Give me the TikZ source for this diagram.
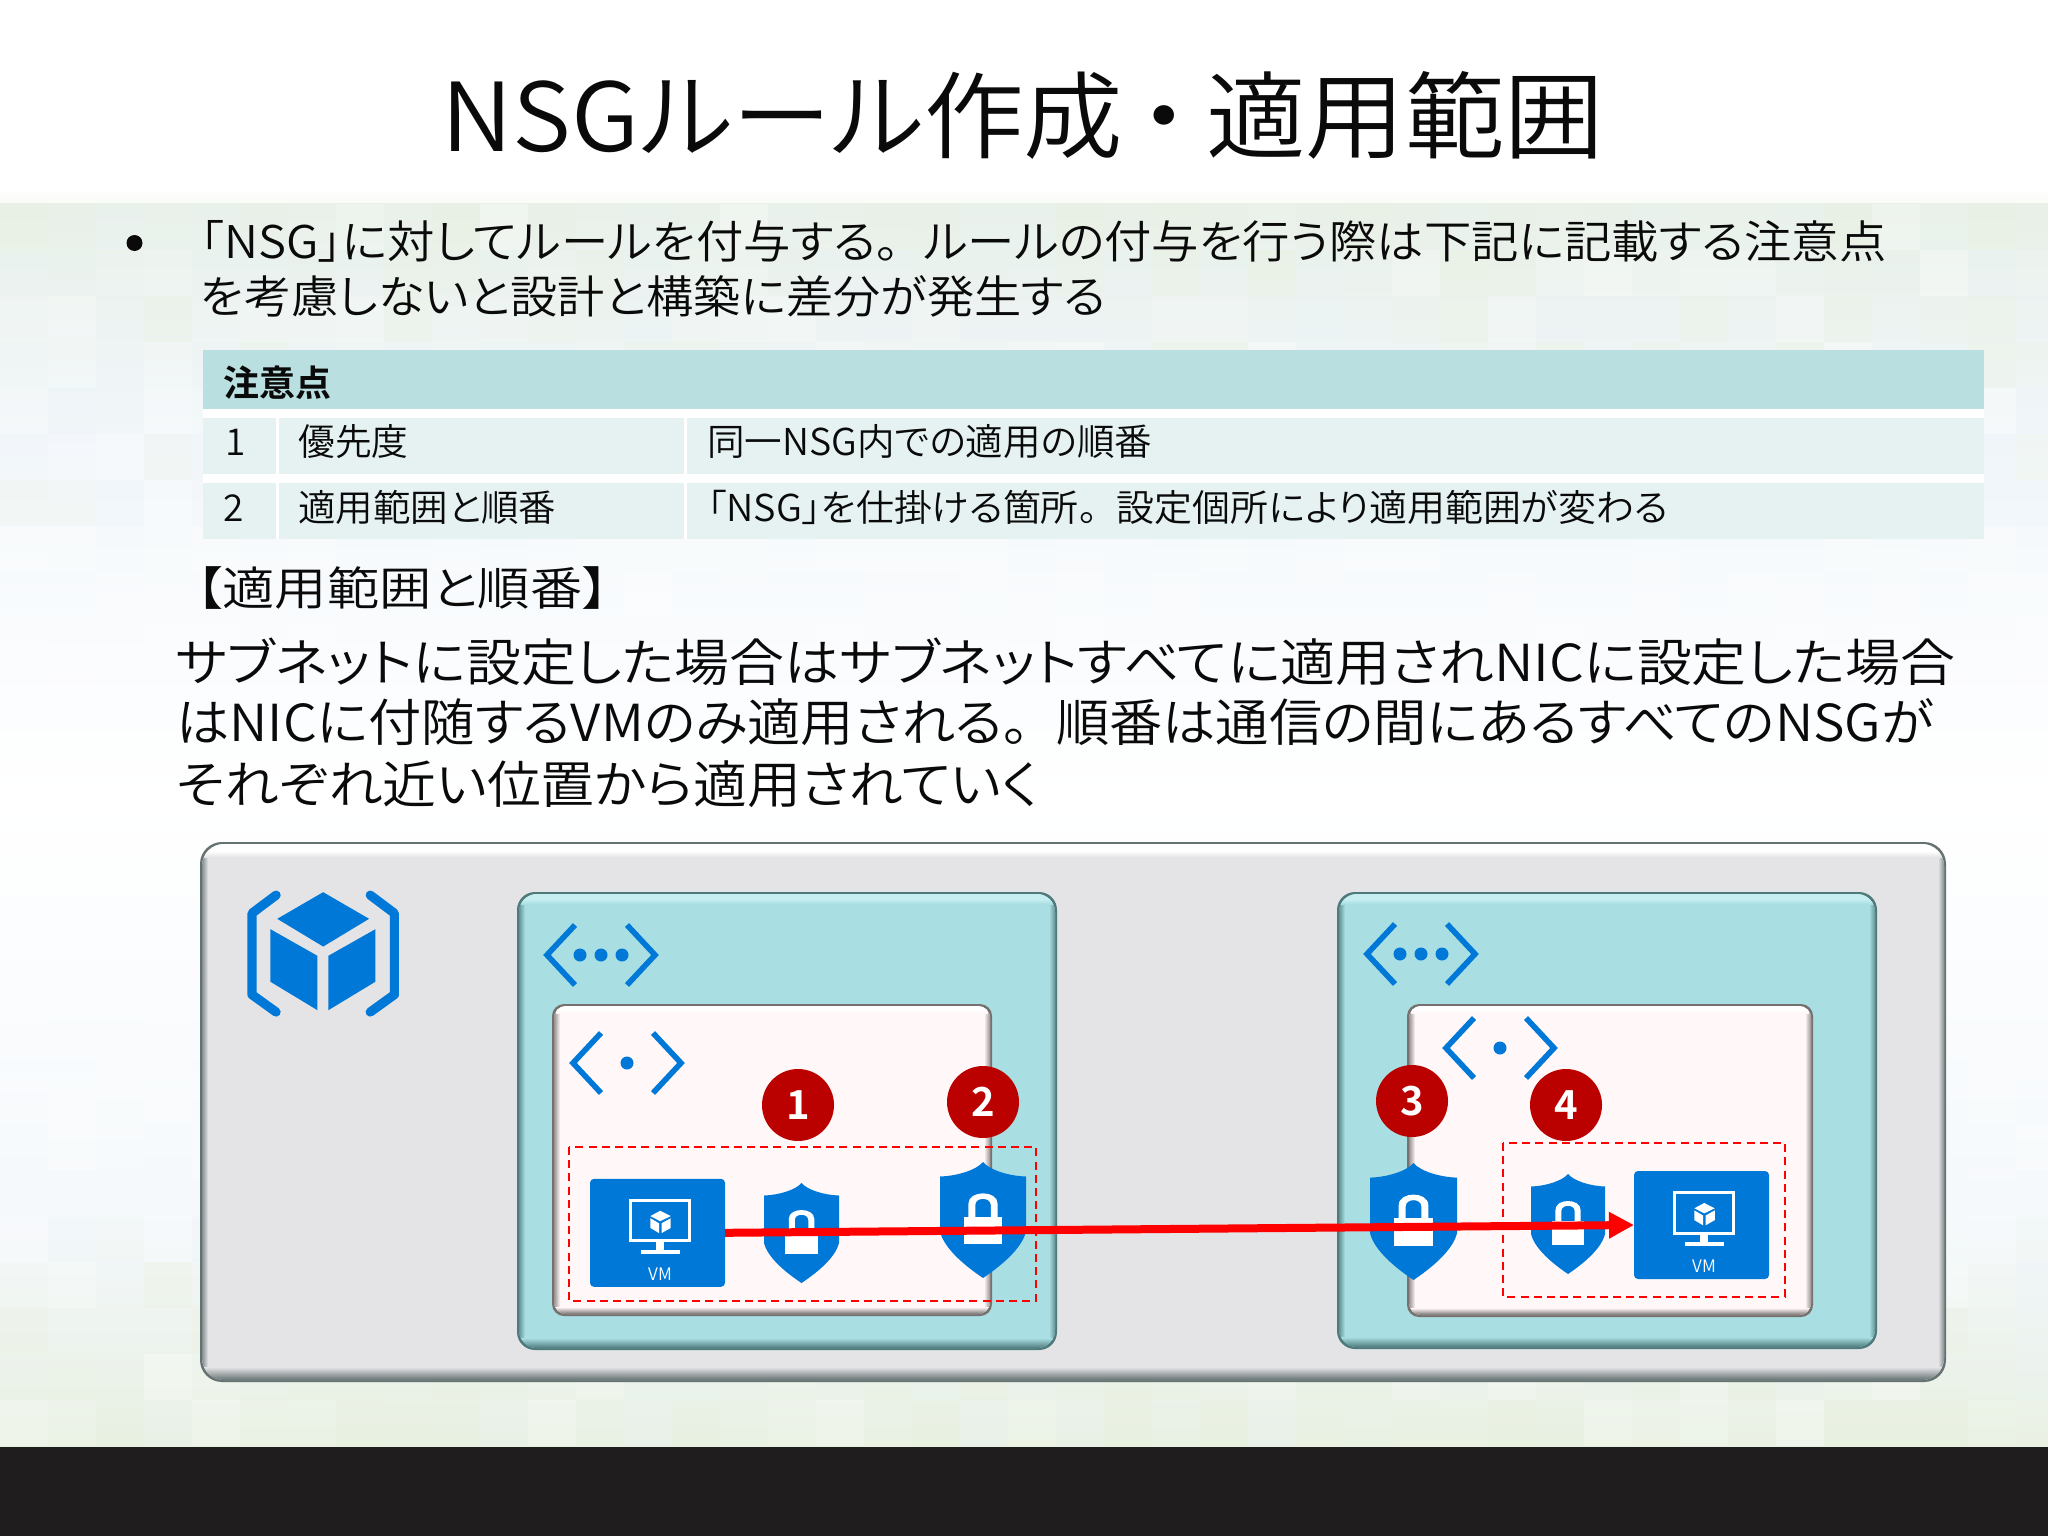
\documentclass[tikz,border=0pt]{standalone}
\usepackage{fontspec}
\usepackage{graphicx}
\usetikzlibrary{arrows.meta}
\setmainfont{Noto Sans CJK JP DemiLight}[RawFeature={+palt},BoldFont={Noto Sans CJK JP Bold}]
\definecolor{azblue}{HTML}{0078D7}
\definecolor{badgered}{HTML}{BB0000}
\definecolor{inkblack}{HTML}{0A0A0A}
\definecolor{hdrfill}{HTML}{B9DFE1}
\definecolor{rowfill}{HTML}{E6F2F2}
\definecolor{footer}{HTML}{201D1F}
\definecolor{mzero}{HTML}{FFFFFF}
\definecolor{mone}{HTML}{E8F0DC}
\definecolor{mtwo}{HTML}{EAF2F8}
\definecolor{outmain}{HTML}{E4E4E6}
\definecolor{outdark}{HTML}{667272}
\definecolor{netmain}{HTML}{A9DFE3}
\definecolor{netlight}{HTML}{C6EEF0}
\definecolor{netdark}{HTML}{4F7A7C}
\definecolor{submain}{HTML}{FFF7F8}
\definecolor{subdark}{HTML}{76706F}
\newcommand{\fitted}[3]{\resizebox{\dimexpr #1pt/2\relax}{\height}{\fontsize{\the\dimexpr #2pt/2\relax}{\the\dimexpr #2pt*6/10\relax}\selectfont #3}}
\newcommand{\fsize}[1]{\fontsize{#1}{#1}\selectfont}
\newcommand{\kuten}{。\hspace{.5em}}
\newcommand{\naka}{\hspace{.17em}・\hspace{.17em}}
% x1 y1 x2 y2 main light dark radius strip
\newcommand{\bevel}[9]{%
  \fill[#7, rounded corners=#8pt] (#1,#2) rectangle (#3,#4);
  \begin{scope}
    \clip[rounded corners=#8pt] (#1+2,#2+2) rectangle (#3-2,#4-2);
    \fill[#5] (#1,#2) rectangle (#3,#4);
    \shade[left color=#7, right color=#5] (#1,#2) rectangle (#1+8,#4);
    \shade[left color=#5, right color=#7] (#3-8,#2) rectangle (#3,#4);
    \fill[#6] (#1+4,#2) rectangle (#3-4,#2+#9*0.6);
    \shade[top color=#6, bottom color=#5] (#1+4,#2+#9*0.6) rectangle (#3-4,#2+#9);
    \shade[top color=#5, bottom color=#7] (#1,#4-#9) rectangle (#3,#4-2);
    \fill[#7] (#1,#4-2) rectangle (#3,#4);
  \end{scope}}
\newcommand{\shieldicon}[4]{%
  \begin{scope}[shift={(#1,#2)},xscale=#3,yscale=#4]
    \fill[azblue] (.5,0) .. controls (.42,.07) and (.2,.12) .. (0,.125) -- (0,.6)
      .. controls (.05,.75) and (.3,.9) .. (.5,1)
      .. controls (.7,.9) and (.95,.75) .. (1,.6) -- (1,.125)
      .. controls (.8,.12) and (.58,.07) .. (.5,0) -- cycle;
    \fill[white] (.28,.47) rectangle (.72,.71);
    \fill[white] (.33,.48) -- (.33,.36) .. controls (.33,.24) and (.67,.24) .. (.67,.36) -- (.67,.48)
      -- (.59,.48) -- (.59,.37) .. controls (.59,.30) and (.41,.30) .. (.41,.37) -- (.41,.48) -- cycle;
  \end{scope}}
\newcommand{\vmicon}[3]{%
  \node[vmbox] (#1) at (#2,#3) {};
  \begin{scope}[shift={(#2-67.5,#3-54)},xscale=135,yscale=108]
    \draw[white,line width=1.5pt] (.3,.2) rectangle (.74,.575);
    \fill[white] (.49,.575) rectangle (.55,.66);
    \fill[white] (.376,.655) rectangle (.666,.695);
    \fill[white] (.52,.296) -- (.598,.345) -- (.52,.392) -- (.447,.345) -- cycle;
    \fill[white] (.447,.365) -- (.512,.412) -- (.512,.503) -- (.447,.455) -- cycle;
    \fill[white] (.598,.365) -- (.53,.412) -- (.53,.503) -- (.598,.455) -- cycle;
    \node[vmlabel] (#1t) at (.52,.88) {VM};
  \end{scope}}
% chevrons: x y; width 112, height 60
\newcommand{\chevrons}[2]{%
  \draw[azblue,line width=2.8pt,miter limit=4] (#1+30,#2) -- (#1+2,#2+30) -- (#1+30,#2+60);
  \draw[azblue,line width=2.8pt,miter limit=4] (#1+82,#2) -- (#1+110,#2+30) -- (#1+82,#2+60);}
\tikzset{
  x=0.5pt,y=-0.5pt,
  vmbox/.style={fill=azblue,rounded corners=2pt,minimum width=67.5pt,minimum height=54pt,inner sep=0pt,outer sep=0pt},
  vmlabel/.style={text=white,inner sep=0pt,font=\fsize{8.6pt}},
  badge/.style={circle,fill=badgered,text=white,minimum size=36pt,inner sep=0pt,font=\fsize{20pt}\bfseries},
  txt/.style={anchor=base west,inner sep=0pt,text=inkblack},
  redbox/.style={draw=red,line width=0.8pt,dash pattern=on 4pt off 2.6pt},
  flow/.style={red,line width=4pt,-{Triangle[length=12.5pt,width=12.5pt]}},
}
\begin{document}
\begin{tikzpicture}
\useasboundingbox (0,0) rectangle (2048,1536);
\fill[white] (0,0) rectangle (2048,1536);
% background
\shade[top color=white,bottom color=white!75!mone] (0,190) rectangle (2048,203);
\shade[top color=mone!55!mtwo,bottom color=mtwo!60!white] (0,203) rectangle (2048,440);
\shade[top color=mtwo!60!white,bottom color=white] (0,440) rectangle (2048,800);
\shade[top color=white,bottom color=mtwo!50!white] (0,800) rectangle (2048,1220);
\shade[top color=mtwo!50!white,bottom color=mone!80!mtwo] (0,1220) rectangle (2048,1447);
\pgfmathsetseed{17}
\foreach \gx in {0,48,...,2016}{
  \foreach \gy in {204,250,...,1420}{
    \pgfmathsetmacro\gop{rnd*0.3}
    \pgfmathtruncatemacro\gc{int(rnd*3)}
    \ifcase\gc\relax \def\gcol{mzero}\or \def\gcol{mone}\else \def\gcol{mtwo}\fi
    \ifnum\gy>500 \ifnum\gy<1200 \def\gcol{mzero}\fi\fi
    \fill[\gcol,opacity=\gop] (\gx,\gy) rectangle (\gx+48,\gy+46);
  }
}
\fill[footer] (0,1447) rectangle (2048,1536);
% title
\node[txt] (title) at (441,151) {\fitted{1163}{95}{NSGルール作成\naka 適用範囲}};
% bullet text
\fill[inkblack] (134.5,243) circle[radius=8];
\node[txt] (l1) at (200,258) {\fitted{1686}{45}{「NSG」に対してルールを付与する\kuten ルールの付与を行う際は下記に記載する注意点}};
\node[txt] (l2) at (200,313) {\fitted{906}{45}{を考慮しないと設計と構築に差分が発生する}};
% table
\fill[white] (203,350) rectangle (1984,539);
\fill[hdrfill] (203,350) rectangle (1984,409);
\fill[rowfill] (203,418) rectangle (276,474);
\fill[rowfill] (279,418) rectangle (684,474);
\fill[rowfill] (687,418) rectangle (1984,474);
\fill[rowfill] (203,483) rectangle (276,539);
\fill[rowfill] (279,483) rectangle (684,539);
\fill[rowfill] (687,483) rectangle (1984,539);
\node[txt] (hdr) at (223,396) {\fitted{108}{36}{\bfseries 注意点}};
\node[txt] (r1a) at (225,455) {\fontsize{18.5pt}{20pt}\selectfont 1};
\node[txt] (r1b) at (298,455) {\fitted{110}{37}{優先度}};
\node[txt] (r1c) at (707,455) {\fitted{445}{37}{同一NSG内での適用の順番}};
\node[txt] (r2a) at (223,521) {\fontsize{18.5pt}{20pt}\selectfont 2};
\node[txt] (r2b) at (298,521) {\fitted{258}{37}{適用範囲と順番}};
\node[txt] (r2c) at (707,521) {\fitted{961}{37}{「NSG」を仕掛ける箇所\kuten 設定個所により適用範囲が変わる}};
% paragraph
\node[txt] (p0) at (196,605) {\fitted{412}{46}{【適用範囲と順番】}};
\node[txt] (p1) at (175,681) {\fitted{1780}{51}{サブネットに設定した場合はサブネットすべてに適用されNICに設定した場合}};
\node[txt] (p2) at (176,741) {\fitted{1757}{51}{はNICに付随するVMのみ適用される\kuten 順番は通信の間にあるすべてのNSGが}};
\node[txt] (p3) at (176,803) {\fitted{862}{51}{それぞれ近い位置から適用されていく}};
% containers
\bevel{200}{842}{1946}{1382}{outmain}{white}{outdark}{11}{15}
\bevel{517}{892}{1057}{1350}{netmain}{netlight}{netdark}{9}{12}
\bevel{1337}{892}{1877}{1349}{netmain}{netlight}{netdark}{9}{12}
\bevel{552}{1004}{992}{1316}{submain}{white}{subdark}{6}{9}
\bevel{1407}{1004}{1813}{1317}{submain}{white}{subdark}{6}{9}
% cube icon
\begin{scope}[shift={(190,830)},xscale=.574,yscale=.37]
  \fill[azblue] (232,168) -- (312,240) -- (232,315) -- (152,240) -- cycle;
  \fill[azblue] (140,268) -- (222,340) -- (222,487) -- (140,410) -- cycle;
  \fill[azblue] (323,268) -- (241,340) -- (241,487) -- (323,410) -- cycle;
  \draw[azblue,line width=4.6pt,line cap=round,line join=round] (150,176) -- (108,225) -- (108,445) -- (150,492);
  \draw[azblue,line width=4.6pt,line cap=round,line join=round] (314,176) -- (356,225) -- (356,445) -- (314,492);
\end{scope}
% network icons
\chevrons{545}{925}
\fill[azblue] (580,955) circle[radius=6.5];
\fill[azblue] (601,955) circle[radius=6.5];
\fill[azblue] (622,955) circle[radius=6.5];
\chevrons{1365}{924}
\fill[azblue] (1400,954) circle[radius=6.5];
\fill[azblue] (1421,954) circle[radius=6.5];
\fill[azblue] (1442,954) circle[radius=6.5];
\chevrons{571}{1033}
\fill[azblue] (627,1063) circle[radius=6.5];
\chevrons{1444}{1018}
\fill[azblue] (1500,1048) circle[radius=6.5];
% dashed boxes
\draw[redbox] (569,1147) rectangle (1036,1301);
\draw[redbox] (1503,1143) rectangle (1785,1297);
% VMs and shields
\vmicon{vmL}{657.5}{1232.8}
\vmicon{vmR}{1701.5}{1225}
\shieldicon{764}{1183}{75}{100}
\shieldicon{940}{1162}{86}{116}
\shieldicon{1370}{1163}{87}{117}
\shieldicon{1531}{1174}{74}{100}
% connector
\draw[flow] (vmL.east) -- (vmR.west);
% badges
\node[badge] (b1) at (798,1105) {1};
\node[badge] (b2) at (983,1102) {2};
\node[badge] (b3) at (1412,1101) {3};
\node[badge] (b4) at (1566,1105) {4};
\end{tikzpicture}
\end{document}
